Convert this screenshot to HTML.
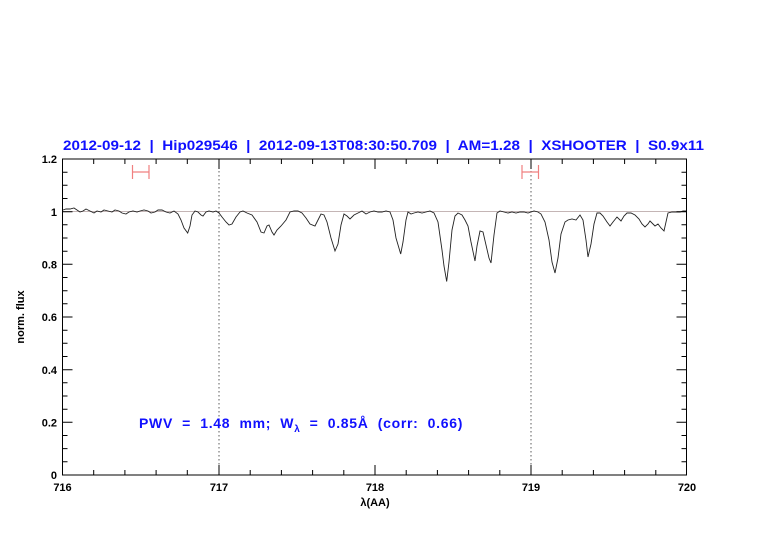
<!DOCTYPE html>
<html><head><meta charset="utf-8"><style>
html,body{margin:0;padding:0;background:#fff;}
svg{display:block;font-family:"Liberation Sans",sans-serif;}
text{white-space:pre;}
</style></head><body>
<svg width="782" height="542" viewBox="0 0 782 542" xmlns="http://www.w3.org/2000/svg" xml:space="preserve">
<rect width="782" height="542" fill="#fff"/>
<text x="63" y="150" font-size="14" font-weight="bold" fill="#1010ff" textLength="641" lengthAdjust="spacingAndGlyphs">2012-09-12  |  Hip029546  |  2012-09-13T08:30:50.709  |  AM=1.28  |  XSHOOTER  |  S0.9x11</text>
<line x1="62.5" y1="211.5" x2="686.5" y2="211.5" stroke="#b09c9c" stroke-width="0.8"/>
<line x1="219" y1="159" x2="219" y2="475" stroke="#333" stroke-width="0.8" stroke-dasharray="1.5,2.5"/>
<line x1="531" y1="159" x2="531" y2="475" stroke="#333" stroke-width="0.8" stroke-dasharray="1.5,2.5"/>
<g stroke="#f08080" stroke-width="1.2" fill="none">
<path d="M132.5 172H149M132.5 165V179M149 165V179"/>
<path d="M522 172H538.5M522 165V179M538.5 165V179"/>
</g>
<polyline fill="none" stroke="#222" stroke-width="0.9" points="63,210 66,209 70,209 74,208 77,210 80,212 83,211 86,209 90,211 94,213 97,211 101,212 104,210 108,211 112,212 115,210 119,211 122,213 126,214 129,212 133,211 137,212 140,211 144,210 148,211 151,213 155,212 158,210 162,210 166,212 170,213 174,211 178,214 181,220 184,228 187.7,233 190,226 192,215 195,211 198,212 201,215 203,216 206,212 209,211 213,212 216,211 219,213 222,217 226,222 229,225 232,224 236,217 240,212 243,211 247,213 252,215 257,222 261,232 264,233 267,226 269,225 272,232 274,235 277,230 281,226 286,220 290,212 294,211 298,211 302,213 306,218 310,224 315,226 318,220 321,214 324,215 327,222 331,238 335,251 338,244 341,225 344,214 347,216 350,219 354,215 358,213 362,211 366,214 370,212 374,211 378,212 382,212 386,211 390,212 393,220 396,238 400.7,254 403,242 406,220 408,212 411,214 414,213 418,212 422,213 426,212 430,211 434,213 438,222 442,250 444,266 446.7,281.5 449,262 452,230 455,216 458,213 462,215 465,220 468,226 471,242 475,261 477,246 480,231 483,232 486,245 489,258 491,263 494,235 497,213 500,211 504,212 508,213 512,212 516,213 520,212 524,212 528,213 531,212 534,211 538,212 541,214 545,222 549,240 552,262 555,273 558,258 561,234 565,222 568,220 572,219 576,220 580,215 583,220 586,240 588,257 591,244 594,224 597,213 600,213 603,216 607,222 610,226 613,222 617,217 621,221 624,216 627,213 631,213 635,215 639,219 642,224 645,227 648,224 650,221 653,224 655,226 658,224 661,228 664,231 666,222 668,213 672,212 676,212 680,212 683,211 686,211"/>
<g stroke="#000" stroke-width="1" fill="none">
<rect x="62.5" y="159" width="624" height="316"/>
<path d="M219 475v-10M375 475v-10M531 475v-10M219 159v10M375 159v10M531 159v10
M93.7 475v-5M124.9 475v-5M156.1 475v-5M187.3 475v-5M250.2 475v-5M281.4 475v-5M312.6 475v-5M343.8 475v-5M406.2 475v-5M437.4 475v-5M468.6 475v-5M499.8 475v-5M562.2 475v-5M593.4 475v-5M624.6 475v-5M655.8 475v-5
M93.7 159v5M124.9 159v5M156.1 159v5M187.3 159v5M250.2 159v5M281.4 159v5M312.6 159v5M343.8 159v5M406.2 159v5M437.4 159v5M468.6 159v5M499.8 159v5M562.2 159v5M593.4 159v5M624.6 159v5M655.8 159v5
M62.5 422.3h10M62.5 369.7h10M62.5 317h10M62.5 264.3h10M62.5 211.7h10M686.5 422.3h-10M686.5 369.7h-10M686.5 317h-10M686.5 264.3h-10M686.5 211.7h-10
M62.5 461.8h5M62.5 448.6h5M62.5 435.5h5M62.5 409.2h5M62.5 396h5M62.5 382.8h5M62.5 356.5h5M62.5 343.3h5M62.5 330.2h5M62.5 303.8h5M62.5 290.7h5M62.5 277.5h5M62.5 251.2h5M62.5 238h5M62.5 224.8h5M62.5 198.5h5M62.5 185.3h5M62.5 172.2h5
M686.5 461.8h-5M686.5 448.6h-5M686.5 435.5h-5M686.5 409.2h-5M686.5 396h-5M686.5 382.8h-5M686.5 356.5h-5M686.5 343.3h-5M686.5 330.2h-5M686.5 303.8h-5M686.5 290.7h-5M686.5 277.5h-5M686.5 251.2h-5M686.5 238h-5M686.5 224.8h-5M686.5 198.5h-5M686.5 185.3h-5M686.5 172.2h-5"/>
</g>
<g font-size="11" font-weight="bold" fill="#000" text-anchor="end">
<text x="57" y="479">0</text>
<text x="57" y="426.5">0.2</text>
<text x="57" y="374">0.4</text>
<text x="57" y="321">0.6</text>
<text x="57" y="268.5">0.8</text>
<text x="57" y="216">1</text>
<text x="57" y="163">1.2</text>
</g>
<g font-size="11" font-weight="bold" fill="#000" text-anchor="middle">
<text x="62.5" y="491">716</text>
<text x="219" y="491">717</text>
<text x="375" y="491">718</text>
<text x="531" y="491">719</text>
<text x="687" y="491">720</text>
<text x="375" y="506">λ(AA)</text>
</g>
<text transform="translate(24,317) rotate(-90)" font-size="11" font-weight="bold" text-anchor="middle" fill="#000">norm. flux</text>
<text x="139" y="428" font-size="14" font-weight="bold" fill="#1010ff" letter-spacing="0.7">PWV  =  1.48  mm;  W<tspan font-size="10" dy="4">λ</tspan><tspan dy="-4">  =  0.85Å  (corr:  0.66)</tspan></text>
</svg>
</body></html>
